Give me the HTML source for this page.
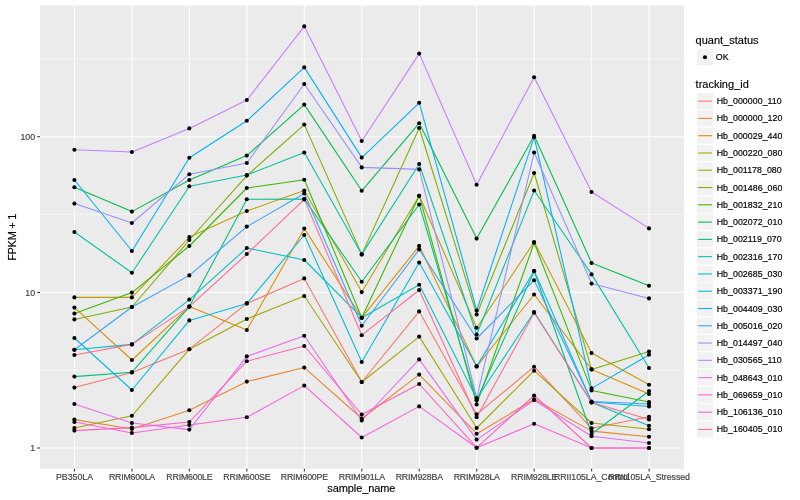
<!DOCTYPE html>
<html><head><meta charset="utf-8"><title>plot</title>
<style>html,body{margin:0;padding:0;background:#fff}body{width:800px;height:500px;overflow:hidden}svg{display:block;will-change:transform}text{font-family:"Liberation Sans",sans-serif}</style>
</head><body>
<svg width="800" height="500" viewBox="0 0 800 500">
<rect x="0" y="0" width="800" height="500" fill="#FFFFFF"/>
<rect x="40.0" y="5.5" width="644.0" height="463.3" fill="#EBEBEB"/>
<line x1="40.0" x2="684.0" y1="370.2" y2="370.2" stroke="#FFFFFF" stroke-width="0.53"/>
<line x1="40.0" x2="684.0" y1="214.5" y2="214.5" stroke="#FFFFFF" stroke-width="0.53"/>
<line x1="40.0" x2="684.0" y1="58.9" y2="58.9" stroke="#FFFFFF" stroke-width="0.53"/>
<line x1="40.0" x2="684.0" y1="448.0" y2="448.0" stroke="#FFFFFF" stroke-width="1.07"/>
<line x1="40.0" x2="684.0" y1="292.4" y2="292.4" stroke="#FFFFFF" stroke-width="1.07"/>
<line x1="40.0" x2="684.0" y1="136.7" y2="136.7" stroke="#FFFFFF" stroke-width="1.07"/>
<line x1="74.50" x2="74.50" y1="5.5" y2="468.8" stroke="#FFFFFF" stroke-width="1.07"/>
<line x1="131.96" x2="131.96" y1="5.5" y2="468.8" stroke="#FFFFFF" stroke-width="1.07"/>
<line x1="189.42" x2="189.42" y1="5.5" y2="468.8" stroke="#FFFFFF" stroke-width="1.07"/>
<line x1="246.88" x2="246.88" y1="5.5" y2="468.8" stroke="#FFFFFF" stroke-width="1.07"/>
<line x1="304.34" x2="304.34" y1="5.5" y2="468.8" stroke="#FFFFFF" stroke-width="1.07"/>
<line x1="361.80" x2="361.80" y1="5.5" y2="468.8" stroke="#FFFFFF" stroke-width="1.07"/>
<line x1="419.26" x2="419.26" y1="5.5" y2="468.8" stroke="#FFFFFF" stroke-width="1.07"/>
<line x1="476.72" x2="476.72" y1="5.5" y2="468.8" stroke="#FFFFFF" stroke-width="1.07"/>
<line x1="534.18" x2="534.18" y1="5.5" y2="468.8" stroke="#FFFFFF" stroke-width="1.07"/>
<line x1="591.64" x2="591.64" y1="5.5" y2="468.8" stroke="#FFFFFF" stroke-width="1.07"/>
<line x1="649.10" x2="649.10" y1="5.5" y2="468.8" stroke="#FFFFFF" stroke-width="1.07"/>
<g fill="none" stroke-width="1.07" stroke-linejoin="round" stroke-linecap="butt">
<polyline points="74.50,387.6 131.96,372.4 189.42,349.2 246.88,303.4 304.34,278.4 361.80,382.0 419.26,311.4 476.72,414.4 534.18,366.7 591.64,428.3 649.10,416.7" stroke="#F8766D"/>
<polyline points="74.50,419.6 131.96,429.0 189.42,410.2 246.88,381.6 304.34,367.6 361.80,418.5 419.26,374.6 476.72,433.7 534.18,399.3 591.64,431.1 649.10,436.7" stroke="#EA8331"/>
<polyline points="74.50,307.6 131.96,360.0 189.42,306.6 246.88,330.0 304.34,228.6 361.80,317.7 419.26,245.9 476.72,366.4 534.18,294.5 591.64,369.4 649.10,394.0" stroke="#D89000"/>
<polyline points="74.50,297.4 131.96,297.4 189.42,237.0 246.88,211.0 304.34,190.5 361.80,292.1 419.26,195.7 476.72,327.8 534.18,242.0 591.64,353.0 649.10,384.8" stroke="#C09B00"/>
<polyline points="74.50,428.0 131.96,415.8 189.42,349.2 246.88,319.0 304.34,296.0 361.80,382.0 419.26,336.6 476.72,428.0 534.18,370.7 591.64,423.0 649.10,429.3" stroke="#A3A500"/>
<polyline points="74.50,319.4 131.96,307.0 189.42,240.0 246.88,175.6 304.34,124.6 361.80,254.4 419.26,128.0 476.72,314.5 534.18,173.0 591.64,369.4 649.10,351.6" stroke="#7CAE00"/>
<polyline points="74.50,313.6 131.96,292.6 189.42,246.0 246.88,188.0 304.34,179.7 361.80,317.7 419.26,195.7 476.72,404.4 534.18,242.8 591.64,390.4 649.10,402.0" stroke="#39B600"/>
<polyline points="74.50,187.2 131.96,211.6 189.42,180.0 246.88,155.6 304.34,104.6 361.80,190.8 419.26,123.2 476.72,238.6 534.18,135.8 591.64,263.0 649.10,285.8" stroke="#00BB4E"/>
<polyline points="74.50,376.6 131.96,372.2 189.42,306.6 246.88,199.2 304.34,199.0 361.80,281.7 419.26,204.5 476.72,400.3 534.18,271.2 591.64,434.0 649.10,391.0" stroke="#00BF7D"/>
<polyline points="74.50,232.0 131.96,272.8 189.42,186.2 246.88,175.0 304.34,152.6 361.80,254.4 419.26,164.0 476.72,334.5 534.18,190.5 591.64,274.4 649.10,368.0" stroke="#00C1A3"/>
<polyline points="74.50,349.8 131.96,344.4 189.42,299.6 246.88,248.0 304.34,260.0 361.80,317.7 419.26,284.7 476.72,398.8 534.18,312.0 591.64,402.5 649.10,425.8" stroke="#00BFC4"/>
<polyline points="74.50,338.0 131.96,390.0 189.42,320.4 246.88,303.4 304.34,235.0 361.80,362.0 419.26,262.6 476.72,366.4 534.18,270.8 591.64,402.0 649.10,406.5" stroke="#00BAE0"/>
<polyline points="74.50,180.0 131.96,251.0 189.42,157.8 246.88,120.8 304.34,67.4 361.80,157.6 419.26,102.8 476.72,310.5 534.18,137.2 591.64,388.4 649.10,354.7" stroke="#00B0F6"/>
<polyline points="74.50,349.8 131.96,307.0 189.42,275.4 246.88,226.6 304.34,193.5 361.80,325.7 419.26,249.4 476.72,338.5 534.18,280.2 591.64,401.5 649.10,404.0" stroke="#35A2FF"/>
<polyline points="74.50,203.6 131.96,223.0 189.42,174.2 246.88,163.0 304.34,84.0 361.80,167.4 419.26,169.4 476.72,398.0 534.18,152.5 591.64,283.6 649.10,298.4" stroke="#9590FF"/>
<polyline points="74.50,149.8 131.96,152.0 189.42,128.4 246.88,100.0 304.34,26.4 361.80,141.0 419.26,53.6 476.72,184.8 534.18,77.2 591.64,192.0 649.10,228.4" stroke="#C77CFF"/>
<polyline points="74.50,404.0 131.96,423.0 189.42,429.6 246.88,356.4 304.34,335.8 361.80,420.5 419.26,359.4 476.72,439.6 534.18,400.3 591.64,436.3 649.10,443.0" stroke="#E76BF3"/>
<polyline points="74.50,422.0 131.96,433.0 189.42,425.0 246.88,417.2 304.34,385.6 361.80,437.5 419.26,406.4 476.72,447.7 534.18,423.7 591.64,448.0 649.10,448.0" stroke="#FA62DB"/>
<polyline points="74.50,430.6 131.96,427.6 189.42,422.0 246.88,361.2 304.34,346.0 361.80,414.5 419.26,384.0 476.72,447.7 534.18,395.5 591.64,448.0 649.10,448.0" stroke="#FF62BC"/>
<polyline points="74.50,355.0 131.96,344.4 189.42,306.6 246.88,254.0 304.34,199.4 361.80,335.2 419.26,290.0 476.72,417.2 534.18,312.8 591.64,402.5 649.10,419.5" stroke="#FF6A98"/>
</g>
<g fill="#000000">
<circle cx="74.40" cy="387.6" r="2.05"/>
<circle cx="74.40" cy="419.6" r="2.05"/>
<circle cx="74.40" cy="307.6" r="2.05"/>
<circle cx="74.40" cy="297.4" r="2.05"/>
<circle cx="74.40" cy="428.0" r="2.05"/>
<circle cx="74.40" cy="319.4" r="2.05"/>
<circle cx="74.40" cy="313.6" r="2.05"/>
<circle cx="74.40" cy="187.2" r="2.05"/>
<circle cx="74.40" cy="376.6" r="2.05"/>
<circle cx="74.40" cy="232.0" r="2.05"/>
<circle cx="74.40" cy="349.8" r="2.05"/>
<circle cx="74.40" cy="338.0" r="2.05"/>
<circle cx="74.40" cy="180.0" r="2.05"/>
<circle cx="74.40" cy="349.8" r="2.05"/>
<circle cx="74.40" cy="203.6" r="2.05"/>
<circle cx="74.40" cy="149.8" r="2.05"/>
<circle cx="74.40" cy="404.0" r="2.05"/>
<circle cx="74.40" cy="422.0" r="2.05"/>
<circle cx="74.40" cy="430.6" r="2.05"/>
<circle cx="74.40" cy="355.0" r="2.05"/>
<circle cx="131.86" cy="372.4" r="2.05"/>
<circle cx="131.86" cy="429.0" r="2.05"/>
<circle cx="131.86" cy="360.0" r="2.05"/>
<circle cx="131.86" cy="297.4" r="2.05"/>
<circle cx="131.86" cy="415.8" r="2.05"/>
<circle cx="131.86" cy="307.0" r="2.05"/>
<circle cx="131.86" cy="292.6" r="2.05"/>
<circle cx="131.86" cy="211.6" r="2.05"/>
<circle cx="131.86" cy="372.2" r="2.05"/>
<circle cx="131.86" cy="272.8" r="2.05"/>
<circle cx="131.86" cy="344.4" r="2.05"/>
<circle cx="131.86" cy="390.0" r="2.05"/>
<circle cx="131.86" cy="251.0" r="2.05"/>
<circle cx="131.86" cy="307.0" r="2.05"/>
<circle cx="131.86" cy="223.0" r="2.05"/>
<circle cx="131.86" cy="152.0" r="2.05"/>
<circle cx="131.86" cy="423.0" r="2.05"/>
<circle cx="131.86" cy="433.0" r="2.05"/>
<circle cx="131.86" cy="427.6" r="2.05"/>
<circle cx="131.86" cy="344.4" r="2.05"/>
<circle cx="189.32" cy="349.2" r="2.05"/>
<circle cx="189.32" cy="410.2" r="2.05"/>
<circle cx="189.32" cy="306.6" r="2.05"/>
<circle cx="189.32" cy="237.0" r="2.05"/>
<circle cx="189.32" cy="349.2" r="2.05"/>
<circle cx="189.32" cy="240.0" r="2.05"/>
<circle cx="189.32" cy="246.0" r="2.05"/>
<circle cx="189.32" cy="180.0" r="2.05"/>
<circle cx="189.32" cy="306.6" r="2.05"/>
<circle cx="189.32" cy="186.2" r="2.05"/>
<circle cx="189.32" cy="299.6" r="2.05"/>
<circle cx="189.32" cy="320.4" r="2.05"/>
<circle cx="189.32" cy="157.8" r="2.05"/>
<circle cx="189.32" cy="275.4" r="2.05"/>
<circle cx="189.32" cy="174.2" r="2.05"/>
<circle cx="189.32" cy="128.4" r="2.05"/>
<circle cx="189.32" cy="429.6" r="2.05"/>
<circle cx="189.32" cy="425.0" r="2.05"/>
<circle cx="189.32" cy="422.0" r="2.05"/>
<circle cx="189.32" cy="306.6" r="2.05"/>
<circle cx="246.78" cy="303.4" r="2.05"/>
<circle cx="246.78" cy="381.6" r="2.05"/>
<circle cx="246.78" cy="330.0" r="2.05"/>
<circle cx="246.78" cy="211.0" r="2.05"/>
<circle cx="246.78" cy="319.0" r="2.05"/>
<circle cx="246.78" cy="175.6" r="2.05"/>
<circle cx="246.78" cy="188.0" r="2.05"/>
<circle cx="246.78" cy="155.6" r="2.05"/>
<circle cx="246.78" cy="199.2" r="2.05"/>
<circle cx="246.78" cy="175.0" r="2.05"/>
<circle cx="246.78" cy="248.0" r="2.05"/>
<circle cx="246.78" cy="303.4" r="2.05"/>
<circle cx="246.78" cy="120.8" r="2.05"/>
<circle cx="246.78" cy="226.6" r="2.05"/>
<circle cx="246.78" cy="163.0" r="2.05"/>
<circle cx="246.78" cy="100.0" r="2.05"/>
<circle cx="246.78" cy="356.4" r="2.05"/>
<circle cx="246.78" cy="417.2" r="2.05"/>
<circle cx="246.78" cy="361.2" r="2.05"/>
<circle cx="246.78" cy="254.0" r="2.05"/>
<circle cx="304.24" cy="278.4" r="2.05"/>
<circle cx="304.24" cy="367.6" r="2.05"/>
<circle cx="304.24" cy="228.6" r="2.05"/>
<circle cx="304.24" cy="190.5" r="2.05"/>
<circle cx="304.24" cy="296.0" r="2.05"/>
<circle cx="304.24" cy="124.6" r="2.05"/>
<circle cx="304.24" cy="179.7" r="2.05"/>
<circle cx="304.24" cy="104.6" r="2.05"/>
<circle cx="304.24" cy="199.0" r="2.05"/>
<circle cx="304.24" cy="152.6" r="2.05"/>
<circle cx="304.24" cy="260.0" r="2.05"/>
<circle cx="304.24" cy="235.0" r="2.05"/>
<circle cx="304.24" cy="67.4" r="2.05"/>
<circle cx="304.24" cy="193.5" r="2.05"/>
<circle cx="304.24" cy="84.0" r="2.05"/>
<circle cx="304.24" cy="26.4" r="2.05"/>
<circle cx="304.24" cy="335.8" r="2.05"/>
<circle cx="304.24" cy="385.6" r="2.05"/>
<circle cx="304.24" cy="346.0" r="2.05"/>
<circle cx="304.24" cy="199.4" r="2.05"/>
<circle cx="361.70" cy="382.0" r="2.05"/>
<circle cx="361.70" cy="418.5" r="2.05"/>
<circle cx="361.70" cy="317.7" r="2.05"/>
<circle cx="361.70" cy="292.1" r="2.05"/>
<circle cx="361.70" cy="382.0" r="2.05"/>
<circle cx="361.70" cy="254.4" r="2.05"/>
<circle cx="361.70" cy="317.7" r="2.05"/>
<circle cx="361.70" cy="190.8" r="2.05"/>
<circle cx="361.70" cy="281.7" r="2.05"/>
<circle cx="361.70" cy="254.4" r="2.05"/>
<circle cx="361.70" cy="317.7" r="2.05"/>
<circle cx="361.70" cy="362.0" r="2.05"/>
<circle cx="361.70" cy="157.6" r="2.05"/>
<circle cx="361.70" cy="325.7" r="2.05"/>
<circle cx="361.70" cy="167.4" r="2.05"/>
<circle cx="361.70" cy="141.0" r="2.05"/>
<circle cx="361.70" cy="420.5" r="2.05"/>
<circle cx="361.70" cy="437.5" r="2.05"/>
<circle cx="361.70" cy="414.5" r="2.05"/>
<circle cx="361.70" cy="335.2" r="2.05"/>
<circle cx="419.16" cy="311.4" r="2.05"/>
<circle cx="419.16" cy="374.6" r="2.05"/>
<circle cx="419.16" cy="245.9" r="2.05"/>
<circle cx="419.16" cy="195.7" r="2.05"/>
<circle cx="419.16" cy="336.6" r="2.05"/>
<circle cx="419.16" cy="128.0" r="2.05"/>
<circle cx="419.16" cy="195.7" r="2.05"/>
<circle cx="419.16" cy="123.2" r="2.05"/>
<circle cx="419.16" cy="204.5" r="2.05"/>
<circle cx="419.16" cy="164.0" r="2.05"/>
<circle cx="419.16" cy="284.7" r="2.05"/>
<circle cx="419.16" cy="262.6" r="2.05"/>
<circle cx="419.16" cy="102.8" r="2.05"/>
<circle cx="419.16" cy="249.4" r="2.05"/>
<circle cx="419.16" cy="169.4" r="2.05"/>
<circle cx="419.16" cy="53.6" r="2.05"/>
<circle cx="419.16" cy="359.4" r="2.05"/>
<circle cx="419.16" cy="406.4" r="2.05"/>
<circle cx="419.16" cy="384.0" r="2.05"/>
<circle cx="419.16" cy="290.0" r="2.05"/>
<circle cx="476.62" cy="414.4" r="2.05"/>
<circle cx="476.62" cy="433.7" r="2.05"/>
<circle cx="476.62" cy="366.4" r="2.05"/>
<circle cx="476.62" cy="327.8" r="2.05"/>
<circle cx="476.62" cy="428.0" r="2.05"/>
<circle cx="476.62" cy="314.5" r="2.05"/>
<circle cx="476.62" cy="404.4" r="2.05"/>
<circle cx="476.62" cy="238.6" r="2.05"/>
<circle cx="476.62" cy="400.3" r="2.05"/>
<circle cx="476.62" cy="334.5" r="2.05"/>
<circle cx="476.62" cy="398.8" r="2.05"/>
<circle cx="476.62" cy="366.4" r="2.05"/>
<circle cx="476.62" cy="310.5" r="2.05"/>
<circle cx="476.62" cy="338.5" r="2.05"/>
<circle cx="476.62" cy="398.0" r="2.05"/>
<circle cx="476.62" cy="184.8" r="2.05"/>
<circle cx="476.62" cy="439.6" r="2.05"/>
<circle cx="476.62" cy="447.7" r="2.05"/>
<circle cx="476.62" cy="447.7" r="2.05"/>
<circle cx="476.62" cy="417.2" r="2.05"/>
<circle cx="534.08" cy="366.7" r="2.05"/>
<circle cx="534.08" cy="399.3" r="2.05"/>
<circle cx="534.08" cy="294.5" r="2.05"/>
<circle cx="534.08" cy="242.0" r="2.05"/>
<circle cx="534.08" cy="370.7" r="2.05"/>
<circle cx="534.08" cy="173.0" r="2.05"/>
<circle cx="534.08" cy="242.8" r="2.05"/>
<circle cx="534.08" cy="135.8" r="2.05"/>
<circle cx="534.08" cy="271.2" r="2.05"/>
<circle cx="534.08" cy="190.5" r="2.05"/>
<circle cx="534.08" cy="312.0" r="2.05"/>
<circle cx="534.08" cy="270.8" r="2.05"/>
<circle cx="534.08" cy="137.2" r="2.05"/>
<circle cx="534.08" cy="280.2" r="2.05"/>
<circle cx="534.08" cy="152.5" r="2.05"/>
<circle cx="534.08" cy="77.2" r="2.05"/>
<circle cx="534.08" cy="400.3" r="2.05"/>
<circle cx="534.08" cy="423.7" r="2.05"/>
<circle cx="534.08" cy="395.5" r="2.05"/>
<circle cx="534.08" cy="312.8" r="2.05"/>
<circle cx="591.54" cy="428.3" r="2.05"/>
<circle cx="591.54" cy="431.1" r="2.05"/>
<circle cx="591.54" cy="369.4" r="2.05"/>
<circle cx="591.54" cy="353.0" r="2.05"/>
<circle cx="591.54" cy="423.0" r="2.05"/>
<circle cx="591.54" cy="369.4" r="2.05"/>
<circle cx="591.54" cy="390.4" r="2.05"/>
<circle cx="591.54" cy="263.0" r="2.05"/>
<circle cx="591.54" cy="434.0" r="2.05"/>
<circle cx="591.54" cy="274.4" r="2.05"/>
<circle cx="591.54" cy="402.5" r="2.05"/>
<circle cx="591.54" cy="402.0" r="2.05"/>
<circle cx="591.54" cy="388.4" r="2.05"/>
<circle cx="591.54" cy="401.5" r="2.05"/>
<circle cx="591.54" cy="283.6" r="2.05"/>
<circle cx="591.54" cy="192.0" r="2.05"/>
<circle cx="591.54" cy="436.3" r="2.05"/>
<circle cx="591.54" cy="448.0" r="2.05"/>
<circle cx="591.54" cy="448.0" r="2.05"/>
<circle cx="591.54" cy="402.5" r="2.05"/>
<circle cx="649.00" cy="416.7" r="2.05"/>
<circle cx="649.00" cy="436.7" r="2.05"/>
<circle cx="649.00" cy="394.0" r="2.05"/>
<circle cx="649.00" cy="384.8" r="2.05"/>
<circle cx="649.00" cy="429.3" r="2.05"/>
<circle cx="649.00" cy="351.6" r="2.05"/>
<circle cx="649.00" cy="402.0" r="2.05"/>
<circle cx="649.00" cy="285.8" r="2.05"/>
<circle cx="649.00" cy="391.0" r="2.05"/>
<circle cx="649.00" cy="368.0" r="2.05"/>
<circle cx="649.00" cy="425.8" r="2.05"/>
<circle cx="649.00" cy="406.5" r="2.05"/>
<circle cx="649.00" cy="354.7" r="2.05"/>
<circle cx="649.00" cy="404.0" r="2.05"/>
<circle cx="649.00" cy="298.4" r="2.05"/>
<circle cx="649.00" cy="228.4" r="2.05"/>
<circle cx="649.00" cy="443.0" r="2.05"/>
<circle cx="649.00" cy="448.0" r="2.05"/>
<circle cx="649.00" cy="448.0" r="2.05"/>
<circle cx="649.00" cy="419.5" r="2.05"/>
</g>
<g stroke="#333333" stroke-width="1.07">
<line x1="37.25" x2="40.0" y1="448.0" y2="448.0"/>
<line x1="37.25" x2="40.0" y1="292.4" y2="292.4"/>
<line x1="37.25" x2="40.0" y1="136.7" y2="136.7"/>
<line x1="74.50" x2="74.50" y1="468.8" y2="471.55"/>
<line x1="131.96" x2="131.96" y1="468.8" y2="471.55"/>
<line x1="189.42" x2="189.42" y1="468.8" y2="471.55"/>
<line x1="246.88" x2="246.88" y1="468.8" y2="471.55"/>
<line x1="304.34" x2="304.34" y1="468.8" y2="471.55"/>
<line x1="361.80" x2="361.80" y1="468.8" y2="471.55"/>
<line x1="419.26" x2="419.26" y1="468.8" y2="471.55"/>
<line x1="476.72" x2="476.72" y1="468.8" y2="471.55"/>
<line x1="534.18" x2="534.18" y1="468.8" y2="471.55"/>
<line x1="591.64" x2="591.64" y1="468.8" y2="471.55"/>
<line x1="649.10" x2="649.10" y1="468.8" y2="471.55"/>
</g>
<g font-size="8.8px" fill="#424242" stroke="#424242" stroke-width="0.18">
<text x="35.1" y="451.15" text-anchor="end">1</text>
<text x="35.1" y="295.55" text-anchor="end">10</text>
<text x="35.1" y="139.85" text-anchor="end">100</text>
<text x="74.50" y="480" text-anchor="middle" letter-spacing="0">PB350LA</text>
<text x="131.96" y="480" text-anchor="middle" letter-spacing="-0.2">RRIM600LA</text>
<text x="189.42" y="480" text-anchor="middle" letter-spacing="-0.2">RRIM600LE</text>
<text x="246.88" y="480" text-anchor="middle" letter-spacing="-0.2">RRIM600SE</text>
<text x="304.34" y="480" text-anchor="middle" letter-spacing="-0.2">RRIM600PE</text>
<text x="361.80" y="480" text-anchor="middle" letter-spacing="-0.2">RRIM901LA</text>
<text x="419.26" y="480" text-anchor="middle" letter-spacing="-0.2">RRIM928BA</text>
<text x="476.72" y="480" text-anchor="middle" letter-spacing="-0.2">RRIM928LA</text>
<text x="534.18" y="480" text-anchor="middle" letter-spacing="-0.2">RRIM928LE</text>
<text x="591.64" y="480" text-anchor="middle" letter-spacing="-0.05">RRII105LA_Control</text>
<text x="649.10" y="480" text-anchor="middle" letter-spacing="-0.05">RRII105LA_Stressed</text>
</g>
<g font-size="11px" fill="#000000" stroke="#000000" stroke-width="0.15">
<text x="361.3" y="492.2" text-anchor="middle" letter-spacing="-0.1">sample_name</text>
<text transform="translate(15.8,237.45000000000002) rotate(-90)" text-anchor="middle" letter-spacing="-0.3">FPKM + 1</text>
<text x="695.6" y="43.7">quant_status</text>
<text x="695.6" y="87.9">tracking_id</text>
</g>
<rect x="696.4" y="48.60" width="17.28" height="17.28" fill="#F2F2F2" stroke="#FFFFFF" stroke-width="1.07"/>
<circle cx="704.94" cy="57.24" r="2.05" fill="#000"/>
<g font-size="8.8px" fill="#000000" stroke="#000000" stroke-width="0.18">
<text x="715.8" y="60.2" letter-spacing="0.1">OK</text>
<rect x="696.4" y="92.50" width="17.28" height="17.28" fill="#F2F2F2" stroke="#FFFFFF" stroke-width="1.07"/>
<line x1="698.10" x2="711.98" y1="101.14" y2="101.14" stroke="#F8766D" stroke-width="1.07"/>
<text x="716.7" y="104.14" letter-spacing="0.05">Hb_000000_110</text>
<rect x="696.4" y="109.78" width="17.28" height="17.28" fill="#F2F2F2" stroke="#FFFFFF" stroke-width="1.07"/>
<line x1="698.10" x2="711.98" y1="118.42" y2="118.42" stroke="#EA8331" stroke-width="1.07"/>
<text x="716.7" y="121.42" letter-spacing="0.05">Hb_000000_120</text>
<rect x="696.4" y="127.06" width="17.28" height="17.28" fill="#F2F2F2" stroke="#FFFFFF" stroke-width="1.07"/>
<line x1="698.10" x2="711.98" y1="135.70" y2="135.70" stroke="#D89000" stroke-width="1.07"/>
<text x="716.7" y="138.70" letter-spacing="0.05">Hb_000029_440</text>
<rect x="696.4" y="144.34" width="17.28" height="17.28" fill="#F2F2F2" stroke="#FFFFFF" stroke-width="1.07"/>
<line x1="698.10" x2="711.98" y1="152.98" y2="152.98" stroke="#C09B00" stroke-width="1.07"/>
<text x="716.7" y="155.98" letter-spacing="0.05">Hb_000220_080</text>
<rect x="696.4" y="161.62" width="17.28" height="17.28" fill="#F2F2F2" stroke="#FFFFFF" stroke-width="1.07"/>
<line x1="698.10" x2="711.98" y1="170.26" y2="170.26" stroke="#A3A500" stroke-width="1.07"/>
<text x="716.7" y="173.26" letter-spacing="0.05">Hb_001178_080</text>
<rect x="696.4" y="178.90" width="17.28" height="17.28" fill="#F2F2F2" stroke="#FFFFFF" stroke-width="1.07"/>
<line x1="698.10" x2="711.98" y1="187.54" y2="187.54" stroke="#7CAE00" stroke-width="1.07"/>
<text x="716.7" y="190.54" letter-spacing="0.05">Hb_001486_060</text>
<rect x="696.4" y="196.18" width="17.28" height="17.28" fill="#F2F2F2" stroke="#FFFFFF" stroke-width="1.07"/>
<line x1="698.10" x2="711.98" y1="204.82" y2="204.82" stroke="#39B600" stroke-width="1.07"/>
<text x="716.7" y="207.82" letter-spacing="0.05">Hb_001832_210</text>
<rect x="696.4" y="213.46" width="17.28" height="17.28" fill="#F2F2F2" stroke="#FFFFFF" stroke-width="1.07"/>
<line x1="698.10" x2="711.98" y1="222.10" y2="222.10" stroke="#00BB4E" stroke-width="1.07"/>
<text x="716.7" y="225.10" letter-spacing="0.05">Hb_002072_010</text>
<rect x="696.4" y="230.74" width="17.28" height="17.28" fill="#F2F2F2" stroke="#FFFFFF" stroke-width="1.07"/>
<line x1="698.10" x2="711.98" y1="239.38" y2="239.38" stroke="#00BF7D" stroke-width="1.07"/>
<text x="716.7" y="242.38" letter-spacing="0.05">Hb_002119_070</text>
<rect x="696.4" y="248.02" width="17.28" height="17.28" fill="#F2F2F2" stroke="#FFFFFF" stroke-width="1.07"/>
<line x1="698.10" x2="711.98" y1="256.66" y2="256.66" stroke="#00C1A3" stroke-width="1.07"/>
<text x="716.7" y="259.66" letter-spacing="0.05">Hb_002316_170</text>
<rect x="696.4" y="265.30" width="17.28" height="17.28" fill="#F2F2F2" stroke="#FFFFFF" stroke-width="1.07"/>
<line x1="698.10" x2="711.98" y1="273.94" y2="273.94" stroke="#00BFC4" stroke-width="1.07"/>
<text x="716.7" y="276.94" letter-spacing="0.05">Hb_002685_030</text>
<rect x="696.4" y="282.58" width="17.28" height="17.28" fill="#F2F2F2" stroke="#FFFFFF" stroke-width="1.07"/>
<line x1="698.10" x2="711.98" y1="291.22" y2="291.22" stroke="#00BAE0" stroke-width="1.07"/>
<text x="716.7" y="294.22" letter-spacing="0.05">Hb_003371_190</text>
<rect x="696.4" y="299.86" width="17.28" height="17.28" fill="#F2F2F2" stroke="#FFFFFF" stroke-width="1.07"/>
<line x1="698.10" x2="711.98" y1="308.50" y2="308.50" stroke="#00B0F6" stroke-width="1.07"/>
<text x="716.7" y="311.50" letter-spacing="0.05">Hb_004409_030</text>
<rect x="696.4" y="317.14" width="17.28" height="17.28" fill="#F2F2F2" stroke="#FFFFFF" stroke-width="1.07"/>
<line x1="698.10" x2="711.98" y1="325.78" y2="325.78" stroke="#35A2FF" stroke-width="1.07"/>
<text x="716.7" y="328.78" letter-spacing="0.05">Hb_005016_020</text>
<rect x="696.4" y="334.42" width="17.28" height="17.28" fill="#F2F2F2" stroke="#FFFFFF" stroke-width="1.07"/>
<line x1="698.10" x2="711.98" y1="343.06" y2="343.06" stroke="#9590FF" stroke-width="1.07"/>
<text x="716.7" y="346.06" letter-spacing="0.05">Hb_014497_040</text>
<rect x="696.4" y="351.70" width="17.28" height="17.28" fill="#F2F2F2" stroke="#FFFFFF" stroke-width="1.07"/>
<line x1="698.10" x2="711.98" y1="360.34" y2="360.34" stroke="#C77CFF" stroke-width="1.07"/>
<text x="716.7" y="363.34" letter-spacing="0.05">Hb_030565_110</text>
<rect x="696.4" y="368.98" width="17.28" height="17.28" fill="#F2F2F2" stroke="#FFFFFF" stroke-width="1.07"/>
<line x1="698.10" x2="711.98" y1="377.62" y2="377.62" stroke="#E76BF3" stroke-width="1.07"/>
<text x="716.7" y="380.62" letter-spacing="0.05">Hb_048643_010</text>
<rect x="696.4" y="386.26" width="17.28" height="17.28" fill="#F2F2F2" stroke="#FFFFFF" stroke-width="1.07"/>
<line x1="698.10" x2="711.98" y1="394.90" y2="394.90" stroke="#FA62DB" stroke-width="1.07"/>
<text x="716.7" y="397.90" letter-spacing="0.05">Hb_069659_010</text>
<rect x="696.4" y="403.54" width="17.28" height="17.28" fill="#F2F2F2" stroke="#FFFFFF" stroke-width="1.07"/>
<line x1="698.10" x2="711.98" y1="412.18" y2="412.18" stroke="#FF62BC" stroke-width="1.07"/>
<text x="716.7" y="415.18" letter-spacing="0.05">Hb_106136_010</text>
<rect x="696.4" y="420.82" width="17.28" height="17.28" fill="#F2F2F2" stroke="#FFFFFF" stroke-width="1.07"/>
<line x1="698.10" x2="711.98" y1="429.46" y2="429.46" stroke="#FF6A98" stroke-width="1.07"/>
<text x="716.7" y="432.46" letter-spacing="0.05">Hb_160405_010</text>
</g>
</svg></body></html>
